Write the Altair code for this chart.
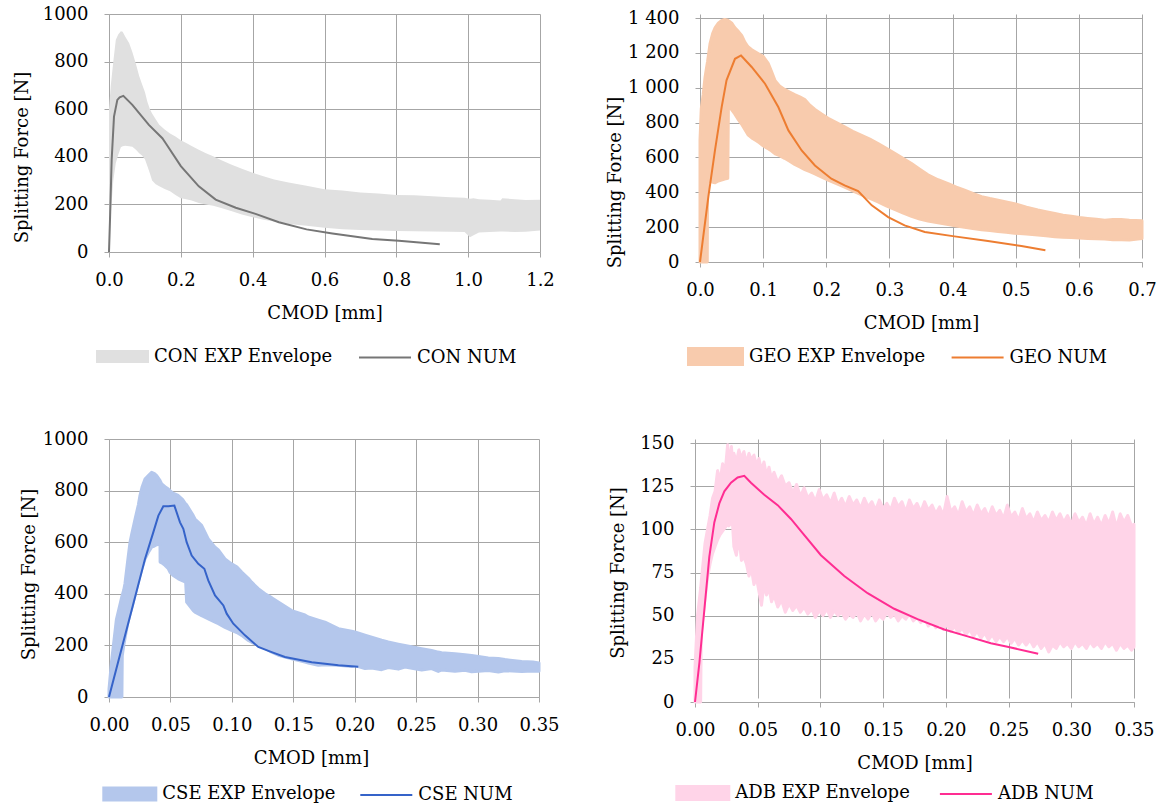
import altair as alt
import pandas as pd

FONT = "DejaVu Serif"
GRID = "#a6a6a6"

# ---------------- CON ----------------
CON_X = [0.000, 0.005, 0.012, 0.019, 0.026, 0.033, 0.038, 0.045, 0.056, 0.065, 0.075, 0.084, 0.092,
         0.100, 0.107, 0.114, 0.120, 0.130, 0.140, 0.155, 0.170, 0.185, 0.200, 0.215, 0.230, 0.250,
         0.270, 0.290, 0.310, 0.340, 0.370, 0.400, 0.430, 0.460, 0.500, 0.550, 0.600, 0.650, 0.700,
         0.750, 0.800, 0.850, 0.900, 0.950, 0.990, 1.005, 1.015, 1.030, 1.060, 1.090, 1.095, 1.130,
         1.160, 1.200]
CON_LO = [140, 160, 300, 374, 410, 440, 444, 446, 444, 442, 430, 415, 405,
          390, 360, 330, 300, 285, 276, 265, 255, 240, 226, 222, 216, 206,
          200, 194, 186, 172, 158, 146, 136, 128, 118, 110, 102, 96, 92,
          90, 88, 87, 86, 85, 84, 62, 70, 82, 84, 86, 86, 84,
          85, 90]
CON_HI = [600, 700, 800, 892, 915, 927, 925, 905, 878, 840, 790, 740, 705,
          672, 630, 600, 582, 558, 535, 515, 498, 485, 470, 458, 445, 430,
          415, 402, 388, 368, 350, 333, 318, 305, 292, 278, 264, 258, 250,
          246, 240, 238, 234, 230, 228, 224, 226, 222, 220, 216, 226, 222,
          218, 220]
CON_NUM_X = [0.0, 0.0028, 0.0074, 0.0139, 0.0232, 0.0297, 0.0399, 0.065, 0.111, 0.1485, 0.158,
             0.2, 0.25, 0.297, 0.353, 0.408, 0.473, 0.55, 0.622, 0.733, 0.807, 0.921]
CON_NUM_Y = [0, 136, 387, 569, 639, 650, 656, 618, 534, 478, 457,
             361, 276, 220, 186, 160, 125, 95, 78, 55, 47, 33]

# ---------------- GEO ----------------
GEO_X = [0.000, 0.002, 0.005, 0.008, 0.0115, 0.012, 0.016, 0.020, 0.024, 0.029, 0.034, 0.039, 0.044,
         0.045, 0.050, 0.055, 0.061, 0.066, 0.071, 0.076, 0.082, 0.088, 0.094, 0.100, 0.104, 0.108,
         0.113, 0.119, 0.126, 0.134, 0.142, 0.150, 0.158, 0.166, 0.174, 0.182, 0.192, 0.203, 0.216,
         0.229, 0.242, 0.256, 0.269, 0.282, 0.295, 0.309, 0.322, 0.335, 0.348, 0.361, 0.377, 0.393,
         0.406, 0.419, 0.432, 0.446, 0.459, 0.472, 0.485, 0.498, 0.517, 0.535, 0.548, 0.562, 0.575,
         0.588, 0.601, 0.614, 0.628, 0.641, 0.654, 0.667, 0.680, 0.690, 0.700]
GEO_LO = [0, 0, 0, 0, 0, 455, 462, 458, 455, 465, 470, 476, 480,
          900, 875, 850, 815, 790, 760, 730, 712, 698, 684, 667, 658, 650,
          638, 620, 610, 595, 578, 560, 545, 530, 518, 505, 488, 470, 450,
          430, 408, 385, 365, 345, 322, 300, 280, 262, 246, 235, 225, 215,
          207, 200, 192, 185, 180, 175, 170, 165, 160, 155, 150, 145, 142,
          140, 137, 135, 133, 132, 128, 128, 126, 130, 135]
GEO_HI = [700, 880, 960, 1060, 1140, 1150, 1255, 1310, 1345, 1370, 1385, 1392, 1388,
          1385, 1372, 1345, 1322, 1300, 1262, 1235, 1218, 1205, 1192, 1180, 1160, 1140,
          1095, 1040, 1010, 990, 975, 960, 948, 932, 900, 875, 850, 825, 800,
          775, 750, 727, 705, 680, 652, 622, 594, 565, 532, 500, 472, 450,
          430, 412, 393, 375, 364, 355, 345, 335, 315, 298, 288, 278, 268,
          262, 255, 250, 245, 240, 244, 244, 240, 238, 236]
GEO_NUM_X = [0.0, 0.0132, 0.0237, 0.0343, 0.042, 0.0554, 0.065, 0.0818, 0.103, 0.124, 0.14, 0.161,
             0.182, 0.208, 0.229, 0.2505, 0.272, 0.298, 0.324, 0.356, 0.403, 0.456, 0.509, 0.547]
GEO_NUM_Y = [0, 373, 640, 889, 1042, 1166, 1185, 1119, 1023, 889, 755, 640,
             554, 478, 440, 407, 325, 258, 210, 172, 147, 120, 92, 67]

# ---------------- CSE ----------------
CSE_X = [0.000, 0.002, 0.006, 0.0105, 0.0108, 0.012, 0.013, 0.015, 0.0171, 0.0184, 0.0212, 0.0239,
         0.0252, 0.027, 0.0293, 0.032, 0.0347, 0.037, 0.0388, 0.0415, 0.0416, 0.0429, 0.0456, 0.0483,
         0.0496, 0.052, 0.0564, 0.060, 0.0624, 0.0632, 0.0686, 0.070, 0.0754, 0.0808, 0.0863, 0.089,
         0.0944, 0.0998, 0.104, 0.108, 0.1134, 0.1161, 0.1215, 0.127, 0.1324, 0.1378, 0.1487, 0.1595,
         0.1622, 0.1704, 0.1758, 0.1867, 0.1975, 0.2002, 0.2084, 0.2138, 0.2219, 0.2273, 0.2355,
         0.2409, 0.2545, 0.2626, 0.268, 0.2708, 0.2816, 0.2897, 0.2952, 0.3087, 0.3169, 0.3223,
         0.3359, 0.345, 0.350]
CSE_LO = [0, 0, 0, 0, 160, 200, 226, 280, 320, 342, 395, 445,
          470, 500, 535, 560, 581, 585, 590, 594, 523, 520, 510, 497,
          484, 472, 458, 450, 445, 368, 335, 329, 315, 303, 290, 284,
          270, 258, 250, 239, 219, 212, 200, 188, 174, 162, 148, 135,
          132, 123, 125, 123, 118, 122, 110, 112, 106, 114, 108,
          116, 105, 110, 99, 105, 100, 104, 98, 103, 97, 102,
          99, 101, 100]
CSE_HI = [30, 135, 300, 390, 395, 415, 440, 520, 600, 630, 690, 745,
          781, 815, 845, 858, 871, 866, 858, 840, 838, 826, 815, 806,
          800, 790, 781, 765, 748, 745, 703, 690, 665, 613, 581, 570,
          535, 516, 505, 484, 460, 445, 420, 400, 385, 368, 335, 318,
          310, 298, 290, 265, 255, 252, 240, 232, 220, 213, 205,
          200, 187, 180, 174, 172, 168, 164, 161, 151, 149, 145,
          138, 136, 132]
CSE_NUM_X = [0.0, 0.0293, 0.0361, 0.0402, 0.0442, 0.0483, 0.0532, 0.0578, 0.0605, 0.0632, 0.0673,
             0.0727, 0.0776, 0.0808, 0.0863, 0.0931, 0.0958, 0.1012, 0.1107, 0.1215, 0.1324, 0.1432,
             0.165, 0.1867, 0.2029]
CSE_NUM_Y = [0, 535, 639, 703, 739, 739, 742, 677, 652, 600, 548,
             516, 497, 452, 394, 355, 323, 284, 239, 194, 174, 155,
             135, 123, 117]

# ---------------- ADB ----------------
ADB_X = [0.000, 0.002, 0.0045, 0.005, 0.008, 0.010, 0.012, 0.014, 0.016, 0.018, 0.020, 0.022, 0.024,
         0.026, 0.027, 0.029, 0.030, 0.031, 0.033, 0.035, 0.037, 0.039, 0.041, 0.043, 0.045, 0.047,
         0.049, 0.051, 0.053, 0.055, 0.057, 0.059, 0.061, 0.063, 0.066, 0.069, 0.072, 0.075, 0.078,
         0.081, 0.084, 0.087, 0.090, 0.093, 0.096, 0.099, 0.102, 0.105, 0.108, 0.111, 0.114, 0.117,
         0.120, 0.123, 0.126, 0.129, 0.132, 0.135, 0.138, 0.141, 0.144, 0.147, 0.150, 0.153, 0.156,
         0.159, 0.162, 0.165, 0.168, 0.171, 0.174, 0.177, 0.180, 0.183, 0.186, 0.189, 0.192, 0.195,
         0.198, 0.201, 0.204, 0.207, 0.210, 0.213, 0.216, 0.219, 0.222, 0.225, 0.228, 0.231, 0.234,
         0.237, 0.240, 0.243, 0.246, 0.249, 0.252, 0.255, 0.258, 0.261, 0.264, 0.267, 0.270, 0.273,
         0.276, 0.279, 0.282, 0.285, 0.288, 0.291, 0.294, 0.297, 0.300, 0.303, 0.306, 0.309, 0.312,
         0.315, 0.318, 0.321, 0.324, 0.327, 0.330, 0.333, 0.336, 0.339, 0.342, 0.345, 0.348, 0.350]
ADB_LO = [0, 0, 0, 40, 60, 72, 80, 86, 90, 94, 97, 99, 101,
          103, 102, 104, 102, 90, 85, 96, 82, 84, 80, 73, 77, 68,
          72, 64, 56, 68, 62, 66, 58, 62, 55, 59, 52, 57, 53,
          56, 52, 55, 51, 54, 49, 53, 50, 54, 49, 53, 50, 52,
          48, 51, 49, 52, 47, 51, 48, 52, 47, 50, 48, 52, 49,
          51, 47, 50, 48, 51, 47, 49, 46, 49, 44, 47, 43, 46,
          42, 45, 41, 44, 40, 43, 39, 42, 38, 41, 37, 40, 36,
          39, 35, 38, 35, 38, 34, 37, 33, 36, 33, 36, 32, 35,
          31, 34, 29, 33, 31, 35, 32, 34, 31, 35, 32, 34, 31,
          35, 32, 34, 31, 35, 32, 34, 30, 34, 31, 33, 30, 32]
ADB_HI = [20, 50, 66, 70, 92, 100, 108, 118, 122, 134, 128, 138, 133,
          149, 136, 148, 140, 144, 139, 146, 141, 145, 138, 144, 140, 143,
          137, 141, 134, 139, 131, 136, 129, 133, 127, 131, 125, 127, 121,
          126, 119, 124, 118, 121, 116, 123, 117, 120, 115, 121, 114, 118,
          113, 119, 114, 117, 112, 118, 113, 116, 111, 117, 112, 115, 111,
          118, 113, 116, 110, 117, 112, 115, 110, 116, 111, 114, 109, 113,
          108, 119, 110, 113, 108, 116, 110, 113, 108, 114, 109, 112, 107,
          113, 108, 111, 106, 114, 107, 110, 105, 112, 106, 109, 104, 110,
          105, 108, 104, 110, 105, 109, 104, 108, 103, 109, 104, 107, 102,
          109, 103, 107, 102, 108, 103, 110, 101, 109, 104, 108, 102, 103]
ADB_NUM_X = [0.0, 0.0035, 0.0074, 0.0114, 0.0154, 0.0194, 0.0234, 0.0287, 0.034, 0.0393, 0.0446,
             0.0552, 0.0659, 0.0765, 0.0845, 0.1004, 0.119, 0.1376, 0.1588, 0.1774, 0.1987, 0.2173,
             0.2359, 0.2491, 0.2736]
ADB_NUM_Y = [0, 22.6, 53, 84, 104, 115, 122, 127, 130, 131, 127,
             120, 114, 106, 99, 85, 73, 63, 54, 48, 42, 38,
             34, 32, 28]

# tick values
X_TICKS_CON = [0.0, 0.2, 0.4, 0.6, 0.8, 1.0, 1.2]
X_TICKS_GEO = [0.0, 0.1, 0.2, 0.3, 0.4, 0.5, 0.6, 0.7]
X_TICKS_035 = [0.0, 0.05, 0.10, 0.15, 0.20, 0.25, 0.30, 0.35]
Y_TICKS_1000 = [0, 200, 400, 600, 800, 1000]
Y_TICKS_1400 = [0, 200, 400, 600, 800, 1000, 1200, 1400]
Y_TICKS_150 = [0, 25, 50, 75, 100, 125, 150]


def panel(name, ex, elo, ehi, nx, ny, env_color, num_color, env_stroke,
          x_dom, x_ticks, x_fmt, y_dom, y_ticks, y_expr,
          w, h, top_off, ytitle_pad, ytitle_y, xtitle_x,
          sw_w, sw_half, leg1, leg2):
    env_lab = f"{name} EXP Envelope"
    num_lab = f"{name} NUM"
    env = pd.DataFrame({"x": ex, "lo": elo, "hi": ehi, "s": env_lab})
    num = pd.DataFrame({"x": nx, "y": ny, "s": num_lab})

    xs = alt.Scale(domain=x_dom, nice=False, zero=False)
    ys = alt.Scale(domain=y_dom, nice=False, zero=False, range=[h, top_off])
    xa = alt.Axis(values=x_ticks, format=x_fmt, title="CMOD [mm]", labelFlush=False,
                  labelOverlap=False, labelPadding=14, titlePadding=15,
                  titleX=xtitle_x)
    ya = alt.Axis(values=y_ticks, labelExpr=y_expr, title="Splitting Force [N]",
                  labelPadding=16, titlePadding=ytitle_pad, titleY=ytitle_y,
                  labelOverlap=False)

    sym_path = f"M-1,-{sw_half}H1V{sw_half}H-1Z"
    area = alt.Chart(env).mark_area(
        stroke=env_color, strokeWidth=env_stroke, strokeJoin="round", opacity=1,
        strokeOpacity=1 if env_stroke > 0 else 0,
    ).encode(
        x=alt.X("x:Q", scale=xs, axis=xa),
        y=alt.Y("lo:Q", scale=ys, axis=ya),
        y2="hi:Q",
        fill=alt.Fill("s:N", scale=alt.Scale(domain=[env_lab], range=[env_color]),
                      legend=alt.Legend(title=None, orient="none", legendX=leg1[0], legendY=leg1[1],
                                        symbolType=sym_path, symbolSize=sw_w * sw_w,
                                        symbolStrokeWidth=0, symbolOpacity=1,
                                        labelOffset=5, padding=0)),
    )
    line = alt.Chart(num).mark_line(strokeWidth=2).encode(
        x=alt.X("x:Q", scale=xs, axis=xa),
        y=alt.Y("y:Q", scale=ys, axis=ya),
        stroke=alt.Stroke("s:N", scale=alt.Scale(domain=[num_lab], range=[num_color]),
                          legend=alt.Legend(title=None, orient="none", legendX=leg2[0], legendY=leg2[1],
                                            symbolType="stroke", symbolSize=52 * 52,
                                            symbolStrokeWidth=2, labelOffset=5, padding=0)),
    )
    return alt.layer(area, line).properties(width=w, height=h)


EXPR_PLAIN = "format(datum.value, 'd')"
EXPR_SPACE = "replace(format(datum.value, ','), ',', ' ')"

p1 = panel("CON", CON_X, CON_LO, CON_HI, CON_NUM_X, CON_NUM_Y, "#e0e0e0", "#767676", 0,
           [0, 1.2], X_TICKS_CON, ".1f", [0, 1000], Y_TICKS_1000, EXPR_PLAIN,
           431, 238, 0, 11, 143, 215.5, 53, 0.245, (-13, 316), (249, 316.5))
p2 = panel("GEO", GEO_X, GEO_LO, GEO_HI, GEO_NUM_X, GEO_NUM_Y, "#f8cbad", "#ed7d31", 3,
           [0, 0.7], X_TICKS_GEO, ".1f", [0, 1400], Y_TICKS_1400, EXPR_SPACE,
           442, 248, 4, 3, 168, 221, 57, 0.333, (-13, 314), (250.6, 316.5))
p3 = panel("CSE", CSE_X, CSE_LO, CSE_HI, CSE_NUM_X, CSE_NUM_Y, "#b4c7ec", "#3563c9", 3,
           [0, 0.35], X_TICKS_035, ".2f", [0, 1000], Y_TICKS_1000, EXPR_PLAIN,
           430, 258, 0, 4, 135, 202, 55, 0.273, (-6.7, 327.5), (250.3, 329))
p4 = panel("ADB", ADB_X, ADB_LO, ADB_HI, ADB_NUM_X, ADB_NUM_Y, "#ffd4e8", "#ff2d92", 3,
           [0, 0.35], X_TICKS_035, ".2f", [0, 150], Y_TICKS_150, EXPR_PLAIN,
           439, 263, 4, 12, 133.5, 219.5, 55, 0.29, (-19.7, 326.5), (243.9, 328))

row1 = alt.hconcat(p1, p2, spacing=160, bounds="flush").resolve_scale(
    fill="independent", stroke="independent").resolve_legend(fill="independent", stroke="independent")
row2 = alt.hconcat(p3, p4, spacing=156, bounds="flush").resolve_scale(
    fill="independent", stroke="independent").resolve_legend(fill="independent", stroke="independent")

chart = alt.vconcat(row1, row2, spacing=425, bounds="flush").resolve_scale(
    fill="independent", stroke="independent").resolve_legend(
    fill="independent", stroke="independent").properties(
    padding={"left": 13, "top": 5, "right": 0, "bottom": 0}
).configure_axis(
    labelFont=FONT, titleFont=FONT, labelFontSize=18, titleFontSize=18,
    titleFontWeight="normal", labelColor="#000000", titleColor="#000000",
    gridColor=GRID, domainColor=GRID, tickColor=GRID, tickSize=5,
    gridWidth=1, domainWidth=1, tickWidth=1,
).configure_legend(
    labelFont=FONT, labelFontSize=18, labelColor="#000000", labelLimit=0,
).configure_view(stroke=None)

chart.save("out.html", embed_options={"renderer": "svg", "actions": False})
